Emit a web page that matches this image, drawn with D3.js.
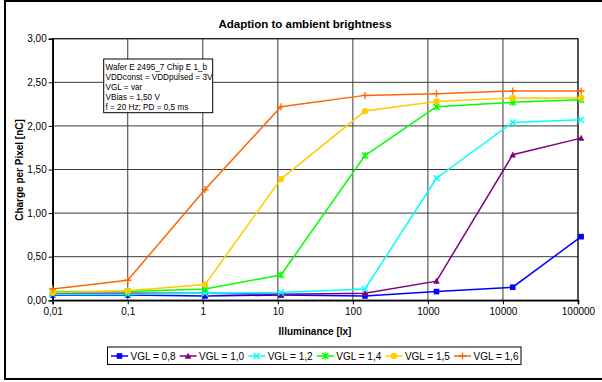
<!DOCTYPE html>
<html>
<head>
<meta charset="utf-8">
<script src="https://cdn.jsdelivr.net/npm/d3@7"></script>
<style>
  body { margin: 0; background: #fff; }
  svg { display: block; font-family: Arial, "Liberation Sans", sans-serif; }
</style>
</head>
<body>
<svg id="chart" width="602" height="382"></svg>
<script>
// Illuminance steps of the measurement [lx]
const illuminance = [0.01, 0.1, 1.07, 11, 145, 1300, 13500, 110000];

// Charge per pixel [nC] for each gate voltage
const vgl08 = [0.06, 0.06, 0.05, 0.06, 0.05, 0.10, 0.15, 0.73];
const vgl10 = [0.08, 0.08, 0.08, 0.07, 0.08, 0.22, 1.67, 1.86];
const vgl12 = [0.07, 0.07, 0.08, 0.09, 0.13, 1.40, 2.04, 2.07];
const vgl14 = [0.10, 0.10, 0.13, 0.29, 1.66, 2.22, 2.27, 2.30];
const vgl15 = [0.09, 0.11, 0.18, 1.39, 2.17, 2.28, 2.32, 2.32];
const vgl16 = [0.13, 0.23, 1.27, 2.22, 2.35, 2.37, 2.40, 2.40];

const seriesNames = ["VGL = 0,8", "VGL = 1,0", "VGL = 1,2", "VGL = 1,4", "VGL = 1,5", "VGL = 1,6"];
const seriesValues = [vgl08, vgl10, vgl12, vgl14, vgl15, vgl16];
const seriesColors = ["#0000ff", "#800080", "#00ffff", "#00ff00", "#ffcc00", "#ff6600"];
const seriesMarkers = ["square", "triangle", "cross", "star", "circle", "plus"];

const xTicks = [0.01, 0.1, 1, 10, 100, 1000, 10000, 100000];
const xTickLabels = ["0,01", "0,1", "1", "10", "100", "1000", "10000", "100000"];
const yTicks = [0, 0.5, 1, 1.5, 2, 2.5, 3];

const infoLines = [
  "Wafer E 2495_7 Chip E 1_b",
  "VDDconst = VDDpulsed = 3V",
  "VGL = var",
  "VBias = 1,50 V",
  "f = 20 Hz; PD = 0,5 ms"
];

const svg = d3.select("#chart");
const plot = { left: 52.7, right: 578, top: 38.7, bottom: 300.3 };

const x = d3.scaleLog().domain([0.01, 100000]).range([plot.left, plot.right]);
const y = d3.scaleLinear().domain([0, 3]).range([plot.bottom, plot.top]);

// outer frame
svg.append("rect")
  .attr("x", 5).attr("y", 1).attr("width", 620).attr("height", 378)
  .attr("fill", "none").attr("stroke", "#000").attr("stroke-width", 2);

// title
svg.append("text")
  .attr("x", 305).attr("y", 27.5)
  .attr("text-anchor", "middle")
  .attr("font-size", "11.5px").attr("font-weight", "bold")
  .text("Adaption to ambient brightness");

// gridlines
const grid = svg.append("g");
grid.selectAll("line.h").data(yTicks).join("line")
  .attr("x1", plot.left).attr("x2", plot.right)
  .attr("y1", d => y(d)).attr("y2", d => y(d))
  .attr("stroke", "#3a3a3a").attr("stroke-width", 1);
grid.selectAll("line.v").data(xTicks).join("line")
  .attr("x1", d => x(d)).attr("x2", d => x(d))
  .attr("y1", plot.top).attr("y2", plot.bottom)
  .attr("stroke", "#3a3a3a").attr("stroke-width", 1);

// plot frame
svg.append("rect")
  .attr("x", plot.left).attr("y", plot.top)
  .attr("width", plot.right - plot.left).attr("height", plot.bottom - plot.top)
  .attr("fill", "none").attr("stroke", "#222").attr("stroke-width", 1.2);

// axes
const fmtY = d => d3.format(".2f")(d).replace(".", ",");
const yAxis = d3.axisLeft(y).tickValues(yTicks).tickFormat(fmtY).tickSize(4).tickPadding(2);
const gy = svg.append("g").attr("transform", `translate(${plot.left},0)`).call(yAxis);
const xAxis = d3.axisBottom(x).tickValues(xTicks)
  .tickFormat((d, i) => xTickLabels[i]).tickSize(4).tickPadding(4);
const gx = svg.append("g").attr("transform", `translate(0,${plot.bottom})`).call(xAxis);
[gx, gy].forEach(g => {
  g.select(".domain").attr("stroke", "#000").attr("stroke-width", 1.6);
  g.selectAll(".tick line").attr("stroke", "#000");
  g.selectAll(".tick text").attr("font-size", "10px")
    .attr("font-family", "Arial, 'Liberation Sans', sans-serif").attr("fill", "#000");
});

// axis titles
svg.append("text")
  .attr("x", 315).attr("y", 335)
  .attr("text-anchor", "middle")
  .attr("font-size", "10px").attr("font-weight", "bold")
  .text("Illuminance [lx]");
svg.append("text")
  .attr("transform", "translate(23,170) rotate(-90)")
  .attr("text-anchor", "middle")
  .attr("font-size", "10px").attr("font-weight", "bold")
  .text("Charge per Pixel [nC]");

// marker drawing
function drawMarker(g, type, color) {
  switch (type) {
    case "square":
      g.append("rect").attr("x", -2.8).attr("y", -2.8).attr("width", 5.6).attr("height", 5.6)
        .attr("fill", color);
      break;
    case "triangle":
      g.append("path").attr("d", "M0,-3.3L3.3,2.7L-3.3,2.7Z").attr("fill", color);
      break;
    case "cross":
      g.append("path").attr("d", "M-3,-3L3,3M-3,3L3,-3")
        .attr("stroke", color).attr("stroke-width", 1.4).attr("fill", "none");
      break;
    case "star":
      g.append("path").attr("d", "M-3,-3L3,3M-3,3L3,-3M0,-3.5L0,3.5")
        .attr("stroke", color).attr("stroke-width", 1.4).attr("fill", "none");
      break;
    case "circle":
      g.append("circle").attr("r", 3.2).attr("fill", color);
      break;
    case "plus":
      g.append("path").attr("d", "M-3.5,0L3.5,0M0,-3.5L0,3.5")
        .attr("stroke", color).attr("stroke-width", 1.3).attr("fill", "none");
      break;
  }
}

// series lines and markers
const line = d3.line().x(d => x(d[0])).y(d => y(d[1]));
seriesValues.forEach((vals, si) => {
  const pts = illuminance.map((v, i) => [v, vals[i]]);
  const g = svg.append("g");
  g.append("path").datum(pts).attr("d", line)
    .attr("fill", "none").attr("stroke", seriesColors[si]).attr("stroke-width", 1.5);
  pts.forEach(p => {
    const m = g.append("g").attr("transform", `translate(${x(p[0])},${y(p[1])})`);
    drawMarker(m, seriesMarkers[si], seriesColors[si]);
  });
});

// info box
const info = svg.append("g");
info.append("rect")
  .attr("x", 103.7).attr("y", 59).attr("width", 109).attr("height", 53.7)
  .attr("fill", "#fff").attr("stroke", "#000").attr("stroke-width", 1);
info.selectAll("text").data(infoLines).join("text")
  .attr("x", 105.5).attr("y", (d, i) => 69.5 + i * 10)
  .attr("font-size", "8.2px")
  .text(d => d);

// legend
const legend = svg.append("g");
legend.append("rect")
  .attr("x", 107.5).attr("y", 347).attr("width", 413.5).attr("height", 17.5)
  .attr("fill", "#fff").attr("stroke", "#000").attr("stroke-width", 1);
seriesNames.forEach((name, i) => {
  const x0 = 111 + i * 68.6;
  const item = legend.append("g").attr("transform", `translate(${x0},356)`);
  item.append("line").attr("x1", 0).attr("x2", 17).attr("y1", 0).attr("y2", 0)
    .attr("stroke", seriesColors[i]).attr("stroke-width", 1.5);
  drawMarker(item.append("g").attr("transform", "translate(8.5,0)"), seriesMarkers[i], seriesColors[i]);
  item.append("text").attr("x", 19.5).attr("y", 3.6)
    .attr("font-size", "10px").text(name);
});
</script>
</body>
</html>
